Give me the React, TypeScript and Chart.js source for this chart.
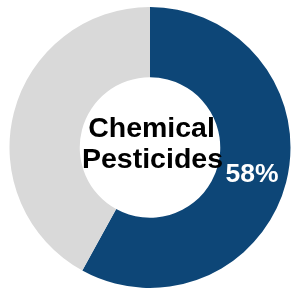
import React, { useEffect, useRef } from "react";
import { Chart, registerables } from "chart.js";

Chart.register(...registerables);

const categories = ["Chemical Pesticides", "Other"];
const values = [58, 42];
const colors = ["#0D4677", "#D9D9D9"];
const centerLines = ["Chemical", "Pesticides"];
const valueLabels = ["58%", ""];

const FONT = '"Liberation Sans", Arial, sans-serif';

const labelPlugin = {
  id: "labels",
  afterDraw(chart: any) {
    const ctx = chart.ctx;
    const meta = chart.getDatasetMeta(0);
    const arc0 = meta.data[0];
    const cx = arc0.x;
    const cy = arc0.y;
    ctx.save();
    ctx.fillStyle = "#000";
    ctx.font = `bold 28.5px ${FONT}`;
    ctx.textAlign = "center";
    ctx.textBaseline = "alphabetic";
    ctx.fillText(centerLines[0], cx + 1.5, cy - 11);
    ctx.fillText(centerLines[1], cx + 2.5, cy + 20);
    ctx.fillStyle = "#fff";
    ctx.font = `bold 26.5px ${FONT}`;
    ctx.textBaseline = "middle";
    meta.data.forEach((el: any, i: number) => {
      if (!valueLabels[i]) return;
      const p = el.tooltipPosition();
      ctx.fillText(valueLabels[i], p.x, p.y + 1);
    });
    ctx.restore();
  },
};

export default function App() {
  const ref = useRef<HTMLCanvasElement>(null);
  useEffect(() => {
    const chart = new Chart(ref.current!, {
      type: "doughnut",
      data: {
        labels: categories,
        datasets: [
          {
            data: values,
            backgroundColor: colors,
            borderWidth: 0,
          },
        ],
      },
      options: {
        animation: false,
        responsive: false,
        cutout: "50%",
        layout: { padding: { left: 9, right: 0, top: 7, bottom: 2 } },
        plugins: {
          legend: { display: false },
          tooltip: { enabled: false },
        },
      },
      plugins: [labelPlugin],
    });
    return () => chart.destroy();
  }, []);
  return (
    <div style={{ position: "fixed", left: 0, top: 0, width: 291, height: 290, background: "#fff" }}>
      <canvas ref={ref} width={291} height={290} style={{ display: "block" }} />
    </div>
  );
}
